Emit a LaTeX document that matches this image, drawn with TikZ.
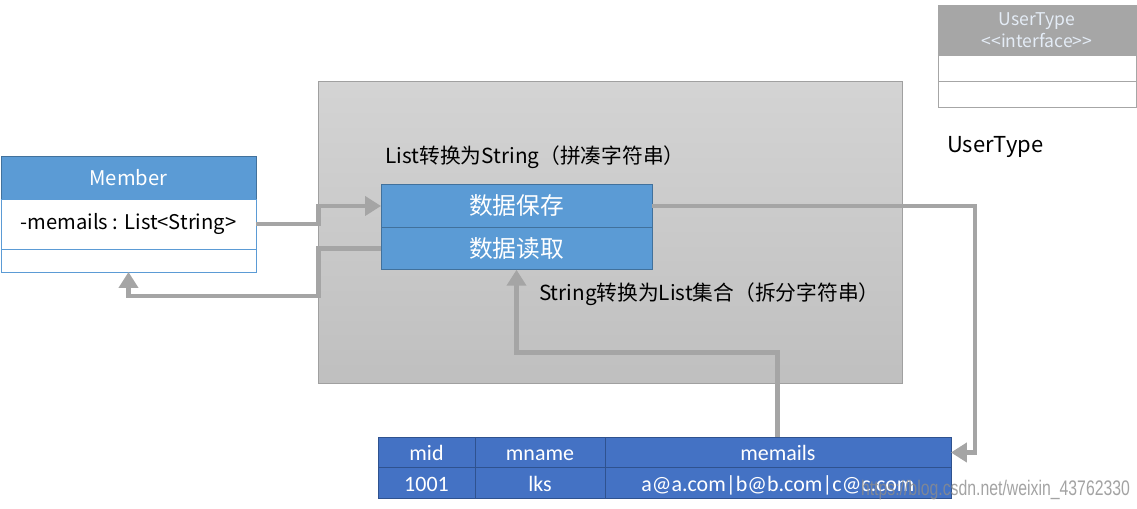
\documentclass[tikz,border=0pt]{standalone}
\usepackage{fontspec}
\setmainfont{Noto Sans CJK SC}
\newfontfamily\tabfont{Carlito}
\newfontfamily\markfont{Liberation Sans}
\usepackage{tikz}
\usetikzlibrary{positioning,arrows.meta}
\definecolor{umlblue}{RGB}{91,155,213}
\definecolor{umledge}{RGB}{65,113,156}
\definecolor{tabblue}{RGB}{68,114,196}
\definecolor{tabedge}{RGB}{47,82,143}
\definecolor{conngray}{RGB}{165,165,165}
\definecolor{ifgray}{RGB}{166,166,166}
\definecolor{panelline}{RGB}{160,160,160}
\definecolor{headtext}{RGB}{228,236,246}

\begin{document}
\begin{tikzpicture}[
  x=0.02cm, y=-0.02cm,
  every node/.style={inner sep=0pt, outer sep=0pt},
  utHead/.style={rectangle, draw=ifgray, fill=ifgray, minimum width=3.96cm, minimum height=1cm, align=center, text=headtext, font=\fontsize{10}{12.5}\selectfont},
  utRow/.style={rectangle, draw=ifgray, fill=white, minimum width=3.96cm, minimum height=0.52cm},
  panel/.style={rectangle, draw=panelline, top color=black!17, bottom color=black!25, minimum width=11.68cm, minimum height=6.04cm},
  mhead/.style={rectangle, draw=umledge, fill=umlblue, minimum width=5.1cm, minimum height=0.86cm, text=white, font=\fontsize{11.5}{13}\selectfont},
  mrow/.style={rectangle, draw=umlblue, fill=white, minimum width=5.1cm, font=\fontsize{11.5}{13}\selectfont},
  ops/.style={rectangle, draw=umledge, fill=umlblue, minimum width=5.42cm, minimum height=0.85cm, text=white, font=\fontsize{13.5}{15}\selectfont},
  note/.style={font=\fontsize{11.8}{14}\selectfont},
  cell/.style={rectangle, draw=tabedge, fill=tabblue, minimum height=0.61cm, text height=10.5pt, text depth=1.3pt, text=white, font=\tabfont\fontsize{12.5}{14}\selectfont},
  conn/.style={-{Triangle[length=0.32cm,width=0.38cm]}, line width=2.8pt, draw=conngray}
]
\useasboundingbox (0,0) rectangle (1137,509);

% interface box, top right
\node[utHead] (ut) at (1037,30) {UserType\\{<}{<}interface{>}{>}};
\node[utRow, below=0pt of ut] (ut1) {};
\node[utRow, below=0pt of ut1] (ut2) {};
\node[anchor=west, font=\fontsize{12.5}{14}\selectfont] (utname) at (947,147) {UserType};

% type handler panel
\node[panel] (bg) at (610,232) {};
\node[note] (tostr) at (535,157) {List转换为String（拼凑字符串）};
\node[ops] (save) at (516.5,206) {数据保存};
\node[ops, below=0pt of save] (read) {数据读取};
\node[note, anchor=west] (tolist) at (539,294) {String转换为List集合（拆分字符串）};

% entity class
\node[mhead] (member) at (128.5,177.5) {Member};
\node[mrow, minimum height=1cm, below=0pt of member] (attr) {-memails : List{<}String{>}};
\node[mrow, minimum height=0.46cm, below=0pt of attr] (mfoot) {};

% database table
\node[cell, minimum width=1.94cm] (c11) at (426.5,452.5) {mid};
\node[cell, minimum width=2.6cm, right=0pt of c11] (c12) {mname};
\node[cell, minimum width=6.92cm, right=0pt of c12] (c13) {memails};
\node[cell, minimum width=1.94cm, below=0pt of c11] (c21) {1001};
\node[cell, minimum width=2.6cm, right=0pt of c21] (c22) {lks};
\node[cell, minimum width=6.92cm, right=0pt of c22] (c23) {a@a.com|b@b.com|c@c.com};

\node[anchor=west, text=black!45, opacity=0.8, font=\markfont\fontsize{12}{14}\selectfont] (wm) at (861,490) {\scalebox{0.75}[1]{https://blog.csdn.net/weixin\_43762330}};

% data flow
\draw[conn] (attr.east) -- (attr.east -| bg.west) |- (save.west);
\draw[conn] (read.west) -- (read.west -| bg.west) |- ([yshift=-0.48cm]mfoot.south) -- (mfoot.south);
\draw[conn] (save.east) -- ++(323,0) |- (c13.east);
\draw[conn] (c13.north) -- ++(0,-85) -| (read.south);
\end{tikzpicture}
\end{document}
